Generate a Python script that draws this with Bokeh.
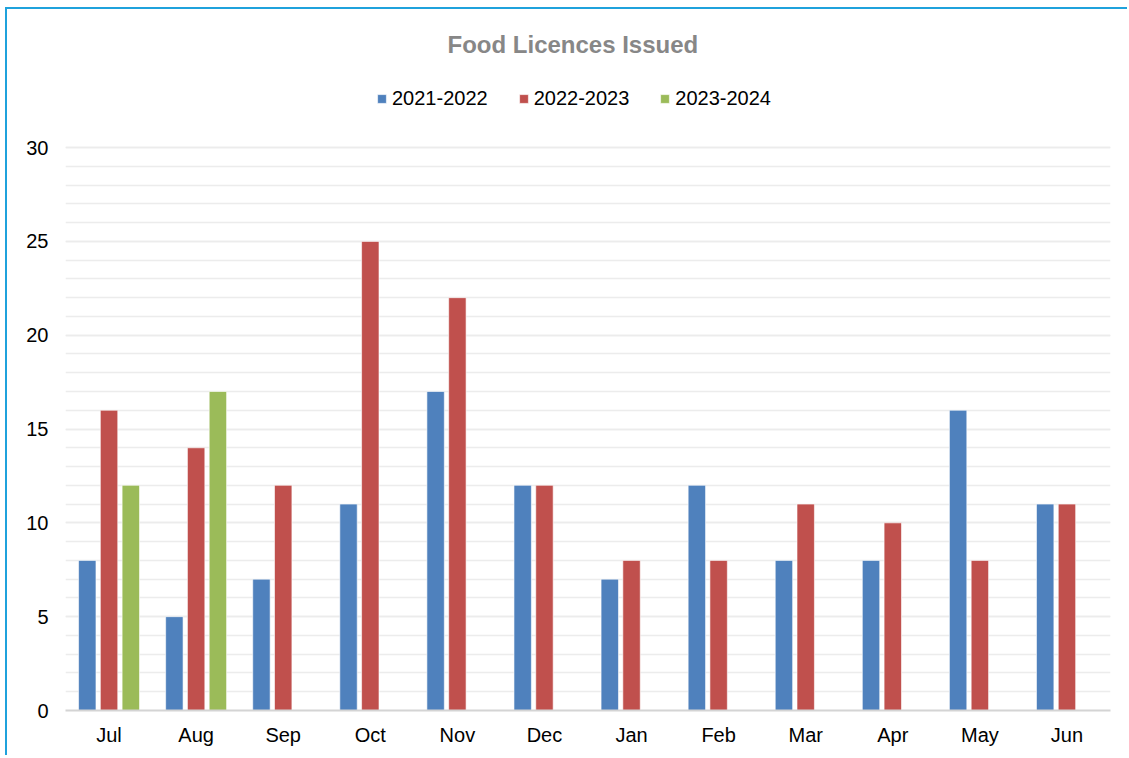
from bokeh.plotting import figure
from bokeh.models import FactorRange, Range1d, SingleIntervalTicker, Legend, LegendItem, ColumnDataSource
from bokeh.transform import dodge
from bokeh.embed import file_html
from bokeh.resources import INLINE

months = ["Jul", "Aug", "Sep", "Oct", "Nov", "Dec", "Jan", "Feb", "Mar", "Apr", "May", "Jun"]
s2021 = [8, 5, 7, 11, 17, 12, 7, 12, 8, 8, 16, 11]
s2022 = [16, 14, 12, 25, 22, 12, 8, 8, 11, 10, 8, 11]
s2023 = [12, 17, float("nan"), float("nan"), float("nan"), float("nan"), float("nan"),
         float("nan"), float("nan"), float("nan"), float("nan"), float("nan")]
series_names = ["2021-2022", "2022-2023", "2023-2024"]
colors = ["#4f81bd", "#c0504d", "#9bbb59"]

source = ColumnDataSource(dict(month=months, a=s2021, b=s2022, c=s2023))

FONT = "Liberation Sans"
UNIT = 563 / 30.0
YTOP = 34
p = figure(x_range=FactorRange(*months), y_range=Range1d(0, YTOP),
           frame_width=1045, frame_height=int(round(UNIT * YTOP)),
           output_backend="svg", toolbar_location=None,
           min_border_left=58, min_border_right=17, min_border_top=63, min_border_bottom=45)
p.styles = {"border-left": "2px solid #1fa2dc", "border-top": "2px solid #1fa2dc",
            "margin-left": "5px", "margin-top": "7px"}
p.outline_line_color = None
p.background_fill_color = "white"
p.border_fill_color = "white"

renderers = []
for col, off, c in zip(["a", "b", "c"], [-0.25, 0.0, 0.25], colors):
    r = p.vbar(x=dodge("month", off, range=p.x_range), top=col, width=0.2, source=source,
               fill_color=c, line_color="white", line_alpha=0.6, line_width=1)
    renderers.append(r)

p.title.text = "Food Licences Issued"
p.title.align = "left"
p.title.offset = 382
p.title.text_font = FONT
p.title.text_font_size = "24px"
p.title.text_font_style = "bold"
p.title.text_color = "#878787"
p.title.standoff = 29

legend = Legend(items=[LegendItem(label=n, renderers=[r]) for n, r in zip(series_names, renderers)],
                orientation="horizontal", location=(311, 600),
                glyph_width=11, glyph_height=11, label_standoff=5, spacing=30,
                label_text_font=FONT, label_text_font_size="20px", label_text_color="#000000",
                border_line_color=None, background_fill_alpha=0, padding=0, margin=0)
p.add_layout(legend, "center")

p.yaxis.ticker = SingleIntervalTicker(interval=5, num_minor_ticks=5)
p.yaxis.bounds = (0, 30)
p.ygrid.bounds = (0, 30)
p.ygrid.grid_line_color = "#ececec"
p.ygrid.minor_grid_line_color = "#ececec"
p.ygrid.grid_line_width = 1.3
p.ygrid.minor_grid_line_width = 1.3
p.xgrid.grid_line_color = None

for ax in (p.xaxis, p.yaxis):
    ax.major_tick_line_color = None
    ax.minor_tick_line_color = None
    ax.major_label_text_font = FONT
    ax.major_label_text_font_size = "20px"
    ax.major_label_text_color = "#000000"
p.yaxis.axis_line_color = None
p.yaxis.major_label_standoff = 11
p.xaxis.axis_line_color = "#d4d4d4"
p.xaxis.axis_line_width = 2
p.xaxis.major_label_standoff = 7

open("out.html", "w").write(file_html(p, INLINE))
